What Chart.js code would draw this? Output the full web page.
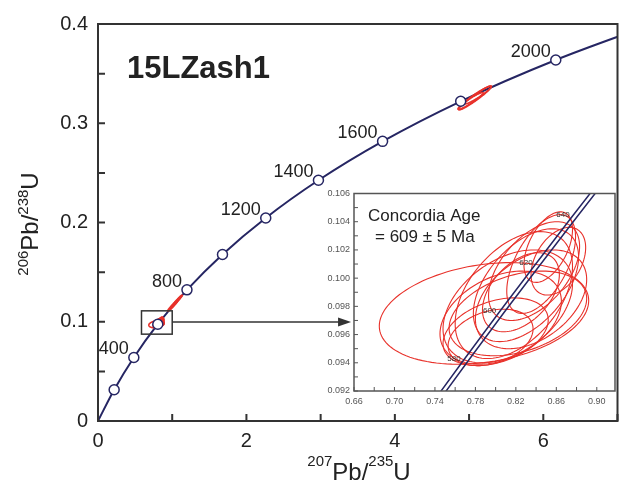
<!DOCTYPE html>
<html><head><meta charset="utf-8">
<script src="https://cdn.jsdelivr.net/npm/chart.js@4.4.1/dist/chart.umd.min.js"></script>
<style>
html,body{margin:0;padding:0;background:#fff;}
#wrap{position:relative;width:624px;height:483px;overflow:hidden;background:#fff;}
#main{position:absolute;left:0;top:0;}
#inset{position:absolute;left:300px;top:180px;}
</style></head><body>
<div id="wrap"><canvas id="main" width="624" height="483"></canvas><canvas id="inset" width="324" height="240"></canvas></div>
<script>
// ---------- DATA ----------
// Concordia curve (age in Ma, 207Pb/235U, 206Pb/238U)
const concAges = [0, 200, 400, 600, 800, 1000, 1200, 1400, 1600, 1800, 2000, 2200];
const concX = [0, 0.2177, 0.4828, 0.8056, 1.1987, 1.6774, 2.2603, 2.9703, 3.8346, 4.8871, 6.1683, 7.7298];
const concY = [0, 0.03151, 0.06402, 0.09754, 0.13213, 0.16780, 0.20459, 0.24257, 0.28174, 0.32212, 0.36377, 0.40674];
const markerAges = [200, 400, 600, 800, 1000, 1200, 1400, 1600, 1800, 2000];
const labelAges = [400, 800, 1200, 1400, 1600, 2000];

// Inset concordia segment
const insetAges = [560, 580, 600, 620, 640, 660];
const insetX = [0.73588, 0.77042, 0.80561, 0.84155, 0.87818, 0.91554];
const insetY = [0.090754, 0.094144, 0.097544, 0.100954, 0.104375, 0.107807];
const insetLabelAges = [580, 600, 620, 640];
const bandHalfWidth = 0.0025;

// Error ellipses: centre, half-extent in x and y, correlation
const ellX   = [0.7885, 0.805, 0.812, 0.818, 0.822, 0.830, 0.838, 0.845, 0.852, 0.862, 0.800, 0.825, 0.835, 0.795,
                0.985, 1.025, 1.065, 1.100, 5.080, 5.120, 5.020];
const ellY   = [0.0975, 0.0972, 0.0980, 0.0988, 0.0975, 0.0995, 0.1005, 0.1010, 0.1022, 0.1012, 0.0962, 0.0990, 0.0985, 0.0958,
                0.1142, 0.1176, 0.1211, 0.1240, 0.3255, 0.3285, 0.3225];
const ellSX  = [0.1035, 0.060, 0.064, 0.058, 0.068, 0.052, 0.045, 0.034, 0.024, 0.027, 0.052, 0.038, 0.055, 0.042,
                0.045, 0.048, 0.042, 0.035, 0.220, 0.180, 0.170];
const ellSY  = [0.0036, 0.0033, 0.0040, 0.0045, 0.0030, 0.0040, 0.0035, 0.0035, 0.0025, 0.0024, 0.0024, 0.0028, 0.0035, 0.0020,
                0.0034, 0.0036, 0.0032, 0.0028, 0.0120, 0.0090, 0.0085];
const ellRho = [0.25, 0.35, 0.40, 0.45, 0.35, 0.50, 0.50, 0.55, 0.50, 0.40, 0.35, 0.45, 0.40, 0.30,
                0.92, 0.92, 0.92, 0.92, 0.96, 0.95, 0.95];

// Tick labels
const mainXTicks = [0, 2, 4, 6];
const mainYTicks = [0, 0.1, 0.2, 0.3, 0.4];
const insetXTicks = [0.66, 0.70, 0.74, 0.78, 0.82, 0.86, 0.90];
const insetYTicks = [0.092, 0.094, 0.096, 0.098, 0.100, 0.102, 0.104, 0.106];

// Texts
const sampleName = '15LZash1';
const ageText1 = 'Concordia Age';
const ageText2 = '= 609 ± 5 Ma';

// ---------- STYLE ----------
const FONT = '"Liberation Sans", Arial, Helvetica, sans-serif';
const NAVY = '#262663';
const RED = '#e8312a';
const INK = '#222';
const FRAME = '#333';

const mainCurve = concX.map((x, i) => ({x, y: concY[i]}));
const mainMarkers = markerAges.map(a => { const i = concAges.indexOf(a); return {x: concX[i], y: concY[i]}; });
const insetLo = insetX.map((x, i) => ({x: x - bandHalfWidth, y: insetY[i]}));
const insetHi = insetX.map((x, i) => ({x: x + bandHalfWidth, y: insetY[i]}));

function drawEllipses(chart, lw) {
  const {ctx, chartArea: a, scales: {x, y}} = chart;
  ctx.save();
  ctx.beginPath(); ctx.rect(a.left, a.top, a.right - a.left, a.bottom - a.top); ctx.clip();
  ctx.strokeStyle = RED; ctx.lineWidth = lw;
  for (let i = 0; i < ellX.length; i++) {
    const r = ellRho[i], q = Math.sqrt(1 - r * r);
    ctx.beginPath();
    for (let k = 0; k <= 120; k++) {
      const t = k / 120 * 2 * Math.PI;
      const px = x.getPixelForValue(ellX[i] + ellSX[i] * Math.cos(t));
      const py = y.getPixelForValue(ellY[i] + ellSY[i] * (r * Math.cos(t) + q * Math.sin(t)));
      if (k) ctx.lineTo(px, py); else ctx.moveTo(px, py);
    }
    ctx.closePath(); ctx.stroke();
  }
  ctx.restore();
}

function supText(ctx, parts, x, y, rot) {
  ctx.save();
  ctx.translate(x, y);
  if (rot) ctx.rotate(rot);
  ctx.textAlign = 'left'; ctx.textBaseline = 'alphabetic'; ctx.fillStyle = INK;
  const big = '24px ' + FONT, small = '15px ' + FONT;
  let total = 0;
  parts.forEach(p => { ctx.font = p[1] ? small : big; total += ctx.measureText(p[0]).width; });
  let cx = -total / 2;
  parts.forEach(p => {
    ctx.font = p[1] ? small : big;
    ctx.fillText(p[0], cx, p[1] ? p[2] : 0);
    cx += ctx.measureText(p[0]).width;
  });
  ctx.restore();
}

// box + arrow (data coords in main chart)
const boxX0 = 0.586, boxX1 = 1.0, boxY0 = 0.0875, boxY1 = 0.111;
const arrowY = 0.0997, arrowEndX = 3.41;

const mainPlugin = {
  id: 'mainDeco',
  afterDatasetDraw(chart, args) { if (args.index === 1) drawEllipses(chart, 1.6); },
  afterDraw(chart) {
    const {ctx, chartArea: a, scales: {x, y}} = chart;
    ctx.save();
    ctx.strokeStyle = FRAME; ctx.lineWidth = 2;
    ctx.beginPath();
    for (let v = 0; v <= 7; v++) { const px = x.getPixelForValue(v); ctx.moveTo(px, a.bottom); ctx.lineTo(px, a.bottom - 7); }
    for (let k = 0; k <= 8; k++) { const py = y.getPixelForValue(k * 0.05); ctx.moveTo(a.left, py); ctx.lineTo(a.left + 7, py); }
    ctx.stroke();
    ctx.strokeRect(a.left, a.top, a.right - a.left, a.bottom - a.top);
    ctx.lineWidth = 1.5; ctx.strokeStyle = '#333';
    const bx0 = x.getPixelForValue(boxX0), bx1 = x.getPixelForValue(boxX1);
    const by0 = y.getPixelForValue(boxY1), by1 = y.getPixelForValue(boxY0);
    ctx.strokeRect(bx0, by0, bx1 - bx0, by1 - by0);
    const ay = y.getPixelForValue(arrowY), ax1 = x.getPixelForValue(arrowEndX);
    ctx.beginPath(); ctx.moveTo(bx1, ay); ctx.lineTo(ax1 - 10, ay); ctx.stroke();
    ctx.fillStyle = '#333';
    ctx.beginPath(); ctx.moveTo(ax1, ay); ctx.lineTo(ax1 - 13, ay - 4.5); ctx.lineTo(ax1 - 13, ay + 4.5); ctx.closePath(); ctx.fill();
    ctx.fillStyle = INK; ctx.font = '18px ' + FONT; ctx.textAlign = 'right'; ctx.textBaseline = 'middle';
    labelAges.forEach(ag => {
      const i = concAges.indexOf(ag);
      ctx.fillText(String(ag), x.getPixelForValue(concX[i]) - 5, y.getPixelForValue(concY[i]) - 8);
    });
    ctx.font = 'bold 31px ' + FONT; ctx.textAlign = 'left'; ctx.textBaseline = 'alphabetic';
    ctx.fillText(sampleName, 127, 78);
    ctx.restore();
    supText(ctx, [['207', true, -14], ['Pb/', false], ['235', true, -14], ['U', false]], 359, 480, 0);
    supText(ctx, [['206', true, -10], ['Pb/', false], ['238', true, -10], ['U', false]], 38, 224, -Math.PI / 2);
  }
};

new Chart(document.getElementById('main'), {
  type: 'scatter',
  data: {
    datasets: [
      {data: mainMarkers, showLine: false, pointRadius: 5, pointBackgroundColor: '#fff', pointBorderColor: NAVY, pointBorderWidth: 1.5, order: 0},
      {data: mainCurve, showLine: true, pointRadius: 0, borderColor: NAVY, borderWidth: 2, cubicInterpolationMode: 'monotone', order: 1}
    ]
  },
  options: {
    responsive: false, animation: false, devicePixelRatio: 1,
    layout: {padding: {left: 0, right: 3, top: 24, bottom: 0}},
    plugins: {legend: {display: false}, tooltip: {enabled: false}},
    scales: {
      x: {type: 'linear', min: 0, max: 7,
          grid: {display: false, drawTicks: false}, border: {display: false},
          ticks: {font: {family: FONT, size: 20}, color: INK, padding: 8, maxRotation: 0, callback: v => String(v)},
          afterBuildTicks: s => { s.ticks = mainXTicks.map(v => ({value: v})); },
          afterFit: s => { s.height = 62; }},
      y: {type: 'linear', min: 0, max: 0.4,
          grid: {display: false, drawTicks: false}, border: {display: false},
          ticks: {font: {family: FONT, size: 20}, color: INK, padding: 10, callback: v => v === 0 ? '0' : v.toFixed(1)},
          afterBuildTicks: s => { s.ticks = mainYTicks.map(v => ({value: v})); },
          afterFit: s => { s.width = 98; }}
    }
  },
  plugins: [mainPlugin]
});

const insetPlugin = {
  id: 'insetDeco',
  beforeDraw(chart) {
    const {ctx, chartArea: a} = chart;
    ctx.save(); ctx.fillStyle = '#fff'; ctx.fillRect(a.left, a.top, a.right - a.left, a.bottom - a.top); ctx.restore();
  },
  beforeDatasetsDraw(chart) { drawEllipses(chart, 1.1); },
  afterDraw(chart) {
    const {ctx, chartArea: a, scales: {x, y}} = chart;
    ctx.save();
    ctx.strokeStyle = '#555'; ctx.lineWidth = 1;
    ctx.beginPath();
    for (let k = 0; k <= 13; k++) { const px = x.getPixelForValue(0.66 + k * 0.02); if (px > a.right) break; ctx.moveTo(px, a.bottom); ctx.lineTo(px, a.bottom - 4); }
    for (let k = 0; k <= 14; k++) { const py = y.getPixelForValue(0.092 + k * 0.001); ctx.moveTo(a.left, py); ctx.lineTo(a.left + 4, py); }
    ctx.stroke();
    ctx.lineWidth = 1.5;
    ctx.strokeRect(a.left, a.top, a.right - a.left, a.bottom - a.top);
    ctx.fillStyle = '#333'; ctx.font = '8px ' + FONT; ctx.textAlign = 'right'; ctx.textBaseline = 'middle';
    insetLabelAges.forEach(ag => {
      const i = insetAges.indexOf(ag);
      ctx.fillText(String(ag), x.getPixelForValue(insetX[i]) - 5, y.getPixelForValue(insetY[i]) - 2);
    });
    ctx.fillStyle = INK; ctx.font = '17px ' + FONT; ctx.textAlign = 'left'; ctx.textBaseline = 'alphabetic';
    ctx.fillText(ageText1, 68, 41);
    ctx.fillText(ageText2, 75, 61.5);
    ctx.restore();
  }
};

new Chart(document.getElementById('inset'), {
  type: 'scatter',
  data: {
    datasets: [
      {data: insetLo, showLine: true, pointRadius: 0, borderColor: NAVY, borderWidth: 1.5},
      {data: insetHi, showLine: true, pointRadius: 0, borderColor: NAVY, borderWidth: 1.5}
    ]
  },
  options: {
    responsive: false, animation: false, devicePixelRatio: 1,
    layout: {padding: {left: 0, right: 9, top: 13.5, bottom: 0}},
    plugins: {legend: {display: false}, tooltip: {enabled: false}},
    scales: {
      x: {type: 'linear', min: 0.66, max: 0.918,
          grid: {display: false, drawTicks: false}, border: {display: false},
          ticks: {font: {family: FONT, size: 9}, color: '#555', padding: 5, maxRotation: 0, callback: v => v.toFixed(2)},
          afterBuildTicks: s => { s.ticks = insetXTicks.map(v => ({value: v})); },
          afterFit: s => { s.height = 29; }},
      y: {type: 'linear', min: 0.092, max: 0.106,
          grid: {display: false, drawTicks: false}, border: {display: false},
          ticks: {font: {family: FONT, size: 9}, color: '#555', padding: 4, callback: v => v.toFixed(3)},
          afterBuildTicks: s => { s.ticks = insetYTicks.map(v => ({value: v})); },
          afterFit: s => { s.width = 54; }}
    }
  },
  plugins: [insetPlugin]
});
</script>
</body></html>
